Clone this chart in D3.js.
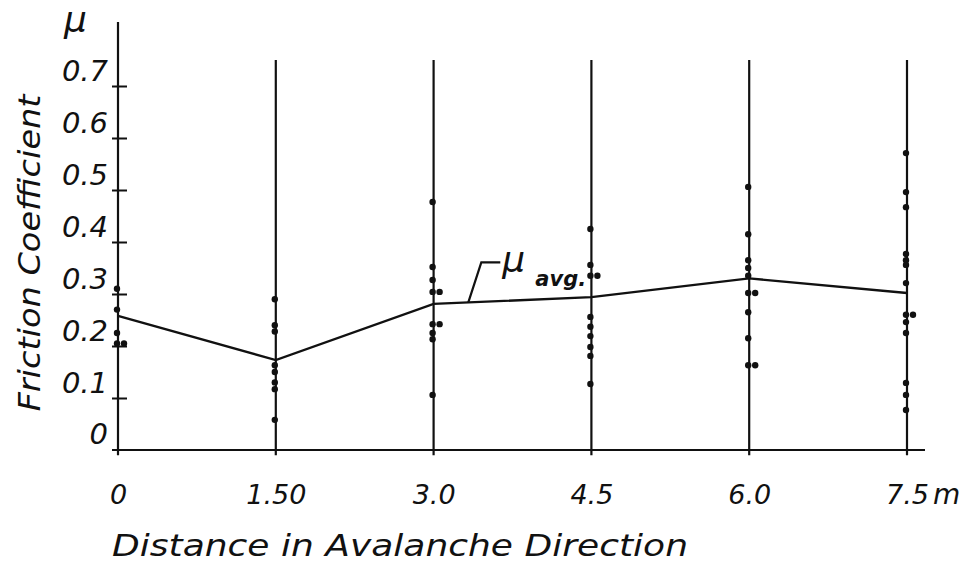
<!DOCTYPE html>
<html>
<head>
<meta charset="utf-8">
<script src="https://cdn.jsdelivr.net/npm/d3@7"></script>
<style>
  body { margin: 0; background: #fff; }
  svg text { font-family: "DejaVu Sans", sans-serif; font-style: italic; fill: #111; }
</style>
</head>
<body>
<div id="chart"></div>
<script>
// distances along the slope (m) and their labels
var distances = [0, 1.5, 3.0, 4.5, 6.0, 7.5];
var distLabels = ["0", "1.50", "3.0", "4.5", "6.0", "7.5"];
var muTicks = [0.1, 0.2, 0.3, 0.4, 0.5, 0.6, 0.7];
var muTickLabels = ["0.1", "0.2", "0.3", "0.4", "0.5", "0.6", "0.7"];

// average friction coefficient at each station
var muAvg = [0.258, 0.173, 0.281, 0.294, 0.33, 0.302];

// single measurements at each station
var mu00 = [0.31, 0.27, 0.225, 0.205, 0.205];
var mu15 = [0.29, 0.24, 0.228, 0.163, 0.15, 0.13, 0.117, 0.058];
var mu30 = [0.477, 0.352, 0.327, 0.304, 0.304, 0.242, 0.242, 0.225, 0.213, 0.106];
var mu45 = [0.425, 0.356, 0.335, 0.335, 0.256, 0.237, 0.219, 0.198, 0.181, 0.127];
var mu60 = [0.506, 0.415, 0.365, 0.35, 0.335, 0.302, 0.302, 0.265, 0.215, 0.163, 0.163];
var mu75 = [0.571, 0.496, 0.467, 0.377, 0.365, 0.356, 0.321, 0.26, 0.26, 0.246, 0.225, 0.129, 0.106, 0.077];
var measurements = [mu00, mu15, mu30, mu45, mu60, mu75];

var labelAt = 3.33; // where the mu avg. leader touches the line

var svg = d3.select("#chart").append("svg")
  .attr("width", 971)
  .attr("height", 562);

var x = d3.scaleLinear().domain([0, 7.5]).range([118, 907]);
var y = d3.scaleLinear().domain([0, 0.7]).range([450, 86]);

var ink = "#111";

// vertical measuring lines
svg.selectAll(".station")
  .data(distances.slice(1))
  .enter().append("line")
  .attr("x1", d => x(d)).attr("x2", d => x(d))
  .attr("y1", y(0.75)).attr("y2", y(-0.01))
  .attr("stroke", ink).attr("stroke-width", 2.2);

// y axis
var yAxis = d3.axisLeft(y).tickValues(muTicks).tickFormat((d, i) => muTickLabels[i]);
var gy = svg.append("g").attr("transform", "translate(" + x(0) + ",0)").call(yAxis);
gy.select(".domain").remove();
gy.selectAll(".tick line").attr("x1", -6).attr("x2", 9).attr("stroke", ink).attr("stroke-width", 2);
gy.selectAll(".tick text")
  .attr("x", -10).attr("dy", "-0.2em")
  .style("font-size", "29px");
gy.attr("font-family", null).attr("font-size", null);

svg.append("line")
  .attr("x1", x(0)).attr("x2", x(0))
  .attr("y1", 22).attr("y2", y(-0.01))
  .attr("stroke", ink).attr("stroke-width", 2.2);

svg.append("text")
  .attr("x", x(0) - 10).attr("y", y(0) - 6)
  .attr("text-anchor", "end")
  .style("font-size", "29px")
  .text("0");

// baseline
svg.append("line")
  .attr("x1", x(0) - 6).attr("x2", x(7.5) + 18)
  .attr("y1", y(0)).attr("y2", y(0))
  .attr("stroke", ink).attr("stroke-width", 2.2);

// x axis labels
var xAxis = d3.axisBottom(x).tickValues(distances).tickFormat((d, i) => distLabels[i]).tickSize(0);
var gx = svg.append("g").attr("transform", "translate(0," + y(0) + ")").call(xAxis);
gx.select(".domain").remove();
gx.attr("font-family", null).attr("font-size", null);
gx.selectAll(".tick text")
  .attr("y", 54).attr("dy", null)
  .style("font-size", "27px");

svg.append("text")
  .attr("x", x(7.5) + 26).attr("y", y(0) + 54)
  .style("font-size", "28px")
  .text("m");

// axis titles
svg.append("text")
  .attr("x", 112).attr("y", 556)
  .attr("textLength", 576).attr("lengthAdjust", "spacingAndGlyphs")
  .style("font-size", "31px")
  .text("Distance in Avalanche Direction");

svg.append("text")
  .attr("transform", "translate(40,253) rotate(-90)")
  .attr("text-anchor", "middle")
  .attr("textLength", 317).attr("lengthAdjust", "spacingAndGlyphs")
  .style("font-size", "30px")
  .text("Friction Coefficient");

svg.append("text")
  .attr("x", 64).attr("y", 32)
  .style("font-size", "36px")
  .text("μ");

// measurement dots, repeated values drawn beside the line
measurements.forEach(function(vals, i) {
  var seen = {};
  var pts = vals.map(function(v) {
    var k = v.toFixed(3);
    var off = seen[k] ? 6 : -1;
    seen[k] = true;
    return { v: v, off: off };
  });
  svg.selectAll(".dot" + i)
    .data(pts)
    .enter().append("circle")
    .attr("cx", d => x(distances[i]) + d.off)
    .attr("cy", d => y(d.v))
    .attr("r", 3.2)
    .attr("fill", ink);
});

// average line
var line = d3.line()
  .x((d, i) => x(distances[i]))
  .y(d => y(d));

svg.append("path")
  .datum(muAvg)
  .attr("d", line)
  .attr("fill", "none")
  .attr("stroke", ink)
  .attr("stroke-width", 2.4);

// mu avg. label with leader
var yAt = d3.scaleLinear().domain([3.0, 4.5]).range([muAvg[2], muAvg[3]]);
var lx = x(labelAt), ly = y(yAt(labelAt));
svg.append("path")
  .attr("d", "M" + lx + "," + ly + "L" + (lx + 13) + "," + (ly - 40) + "L" + (lx + 32) + "," + (ly - 40))
  .attr("fill", "none")
  .attr("stroke", ink)
  .attr("stroke-width", 2.2);

svg.append("text")
  .attr("x", lx + 34).attr("y", ly - 30)
  .style("font-size", "36px")
  .text("μ");
svg.append("text")
  .attr("x", lx + 67).attr("y", ly - 16)
  .style("font-size", "21px")
  .style("font-weight", "bold")
  .text("avg.");
</script>
</body>
</html>
